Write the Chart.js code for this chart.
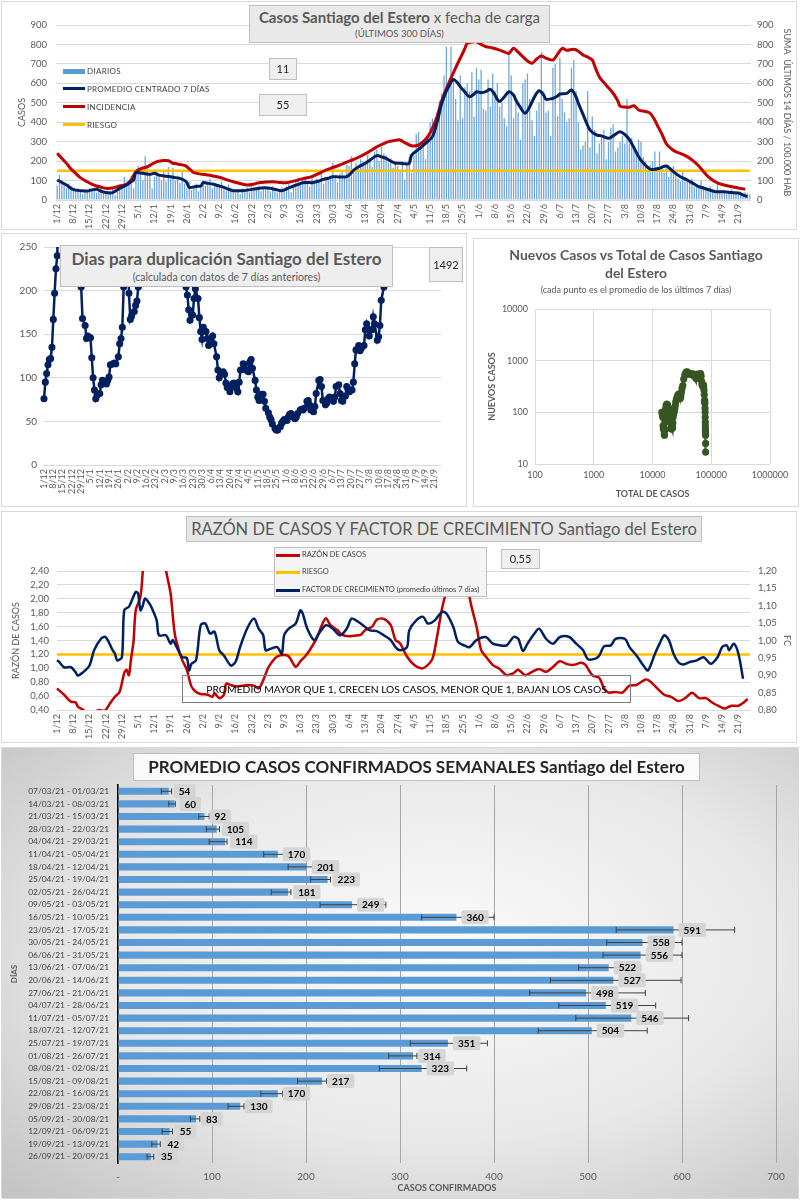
<!DOCTYPE html>
<html>
<head>
<meta charset="utf-8">
<script src="https://cdn.jsdelivr.net/npm/chart.js@4.4.1/dist/chart.umd.min.js"></script>
<style>
body{margin:0;width:803px;height:1200px;position:relative;background:#fff;font-family:Lato,'Open Sans',sans-serif;overflow:hidden}
.panel{position:absolute;box-sizing:border-box;border:1px solid #d9d9d9;background:#fff}
.lienzo{position:absolute}
.caja{position:absolute;box-sizing:border-box;border:1px solid #bfbfbf;background:#e9e9e9;color:#595959;text-align:center;white-space:nowrap}
.txt{position:absolute;white-space:nowrap;color:#404040}
.sw{position:absolute}
</style>
</head>
<body>

<div class="panel" style="left:1px;top:1px;width:796px;height:229px"></div>
<div class="panel" style="left:1px;top:233px;width:466px;height:274px"></div>
<div class="panel" style="left:473px;top:238px;width:326px;height:269px"></div>
<div class="panel" style="left:1px;top:511px;width:796px;height:232px"></div>
<div class="panel" style="left:1px;top:747px;width:798px;height:452px;background:radial-gradient(ellipse at 55% 45%, #fbfbfb 0%, #e8e8e8 55%, #c2c2c2 100%)"></div>

<div class="lienzo" style="left:0;top:0;width:800px;height:230px"><canvas id="c1"></canvas></div>
<div class="lienzo" style="left:2px;top:233px;width:465px;height:273px"><canvas id="c2"></canvas></div>
<div class="lienzo" style="left:474px;top:238px;width:325px;height:269px"><canvas id="c3"></canvas></div>
<div class="lienzo" style="left:0;top:512px;width:800px;height:231px"><canvas id="c4"></canvas></div>
<div class="lienzo" style="left:0;top:747px;width:800px;height:451px"><canvas id="c5"></canvas></div>

<!-- grafico 1 -->
<div class="caja" style="left:249px;top:5px;width:301px;height:38px">
  <div style="font-size:15px;line-height:18px;margin-top:2px"><b>Casos Santiago del Estero</b> x fecha de carga</div>
  <div style="font-size:9.5px;line-height:12px;margin-top:2px">(ÚLTIMOS 300 DÍAS)</div>
</div>
<div class="sw" style="left:63px;top:69px;width:22px;height:5px;background:#5b9bd5"></div>
<div class="txt" style="left:87px;top:65px;font-size:8px;line-height:12px;letter-spacing:0.3px">DIARIOS</div>
<div class="sw" style="left:63px;top:87px;width:22px;height:3px;background:#002060"></div>
<div class="txt" style="left:87px;top:83px;font-size:8px;line-height:12px;letter-spacing:0.3px">PROMEDIO CENTRADO 7 DÍAS</div>
<div class="sw" style="left:63px;top:105px;width:22px;height:3px;background:#c00000"></div>
<div class="txt" style="left:87px;top:101px;font-size:8px;line-height:12px;letter-spacing:0.3px">INCIDENCIA</div>
<div class="sw" style="left:63px;top:123px;width:22px;height:3px;background:#ffc000"></div>
<div class="txt" style="left:87px;top:119px;font-size:8px;line-height:12px;letter-spacing:0.3px">RIESGO</div>
<div class="caja" style="left:269px;top:58px;width:28px;height:22px;background:#efefef;color:#262626;font-size:11px;line-height:20px">11</div>
<div class="caja" style="left:259px;top:94px;width:48px;height:22px;background:#efefef;color:#262626;font-size:11px;line-height:20px">55</div>

<!-- grafico 2 -->
<div class="caja" style="left:60px;top:245px;width:333px;height:42px;background:#eeeeee">
  <div style="font-size:17px;line-height:20px;margin-top:3px;font-weight:bold">Dias para duplicación Santiago del Estero</div>
  <div style="font-size:10.5px;line-height:13px;margin-top:2px">(calculada con datos de 7 días anteriores)</div>
</div>
<div class="caja" style="left:429px;top:247px;width:34px;height:35px;background:#efefef;color:#262626;font-size:11px;line-height:33px">1492</div>

<!-- grafico 3 -->
<div class="txt" style="left:503px;top:246px;width:266px;text-align:center;white-space:normal;font-size:14px;line-height:18px;font-weight:bold;color:#595959">Nuevos Casos vs Total de Casos Santiago del Estero</div>
<div class="txt" style="left:480px;top:284px;width:312px;text-align:center;font-size:9px;line-height:12px;color:#595959">(cada punto es el promedio de los últimos 7 días)</div>

<!-- grafico 4 -->
<div class="caja" style="left:186px;top:516px;width:516px;height:26px;background:#e6e6e6;font-size:16.5px;line-height:24px">RAZÓN DE CASOS Y FACTOR DE CRECIMIENTO Santiago del Estero</div>
<div class="caja" style="left:274px;top:547px;width:213px;height:50px;background:#f4f4f4"></div>
<div class="sw" style="left:276px;top:554px;width:24px;height:2.5px;background:#c00000"></div>
<div class="txt" style="left:302px;top:550px;font-size:7.5px;line-height:10px">RAZÓN DE CASOS</div>
<div class="sw" style="left:276px;top:571px;width:24px;height:2.5px;background:#ffc000"></div>
<div class="txt" style="left:302px;top:567px;font-size:7.5px;line-height:10px">RIESGO</div>
<div class="sw" style="left:276px;top:589px;width:24px;height:2.5px;background:#002060"></div>
<div class="txt" style="left:302px;top:585px;font-size:7.5px;line-height:10px">FACTOR DE CRECIMIENTO (promedio últimos 7 días)</div>
<div class="caja" style="left:501px;top:549px;width:39px;height:20px;background:#efefef;color:#262626;font-size:11px;line-height:18px">0,55</div>
<div class="caja" style="left:182px;top:675px;width:449px;height:28px;background:transparent;border-color:#7f7f7f;color:#000;font-size:10.3px;line-height:26px">PROMEDIO MAYOR QUE 1, CRECEN LOS CASOS, MENOR QUE 1, BAJAN LOS CASOS</div>

<!-- grafico 5 -->
<div class="caja" style="left:133px;top:753px;width:567px;height:28px;background:rgba(255,255,255,0.85);color:#262626;font-size:17px;line-height:26px;font-weight:bold">PROMEDIO CASOS CONFIRMADOS SEMANALES Santiago del Estero</div>

<script>
// ---- datos ----
const N_DIAS = 300; // 1/12/2020 .. 26/9/2021
const etiquetasSemana = ['1/12','8/12','15/12','22/12','29/12','5/1','12/1','19/1','26/1','2/2','9/2','16/2','23/2','2/3','9/3','16/3','23/3','30/3','6/4','13/4','20/4','27/4','4/5','11/5','18/5','25/5','1/6','8/6','15/6','22/6','29/6','6/7','13/7','20/7','27/7','3/8','10/8','17/8','24/8','31/8','7/9','14/9','21/9'];

const casosDiarios = [
75,130,105,90,60,85,70,
55,48,62,40,30,52,45,
60,45,55,38,50,65,35,
40,30,48,55,25,45,60,
70,120,95,80,125,60,130,
175,150,100,225,160,130,60,
120,155,135,100,145,95,170,
110,165,100,125,90,150,85,
60,95,50,70,85,45,65,
100,75,90,110,60,85,80,
70,95,55,45,80,60,50,
40,55,30,60,45,65,40,
70,50,60,75,45,55,65,
60,45,70,50,40,55,65,
50,70,85,40,75,95,110,
80,100,120,85,70,130,95,
110,95,140,85,120,100,125,
190,110,90,135,150,120,180,
175,225,140,190,160,210,200,
185,230,215,170,250,260,200,
275,240,230,190,215,165,200,
175,150,200,105,180,220,140,
230,340,350,280,300,210,330,
400,420,380,450,510,550,640,
790,600,790,620,520,410,640,
420,580,600,560,660,430,680,
620,670,470,460,620,480,650,
560,600,480,500,420,380,770,
640,420,510,450,310,600,620,
650,520,410,330,460,500,760,
560,450,460,330,680,700,430,
730,520,450,400,420,680,720,
560,400,260,280,300,560,270,
430,360,240,290,330,360,210,
300,370,390,250,270,300,330,
290,520,290,320,260,250,310,
300,220,200,150,180,200,250,
150,250,180,140,170,120,150,
175,140,110,95,150,120,100,
90,110,70,80,65,100,70,
60,45,70,55,40,90,50,
35,50,30,45,55,40,35,
30,45,25,40,35,30];

// [dia, valor]
const promedio7 = [[0,103],[2,90],[4,77],[6,60],[8,51],[10,48],[13,46],[15,52],[17,55],[19,45],[21,38],[24,38],[27,60],[30,77],[32,95],[33,103],[34,140],[37,137],[40,132],[42,137],[44,128],[47,122],[49,120],[51,115],[53,111],[55,100],[56,89],[57,65],[60,70],[62,72],[63,89],[65,86],[67,82],[70,72],[72,65],[74,55],[76,48],[80,48],[83,52],[85,57],[88,62],[90,63],[92,60],[94,55],[97,48],[100,62],[102,72],[104,80],[106,89],[108,90],[110,89],[113,98],[115,106],[117,112],[119,120],[122,118],[125,120],[127,140],[128,154],[130,170],[133,189],[135,205],[138,228],[140,222],[142,214],[144,200],[146,189],[148,189],[150,186],[152,189],[153,231],[156,260],[159,291],[162,326],[164,400],[166,497],[168,560],[169,583],[171,620],[173,600],[174,583],[176,555],[178,531],[180,545],[181,557],[183,552],[185,557],[187,569],[189,540],[190,518],[191,506],[193,530],[195,557],[197,540],[198,514],[200,475],[202,446],[204,480],[206,530],[208,562],[210,540],[211,518],[213,520],[214,523],[216,535],[217,545],[220,548],[222,566],[224,530],[225,497],[227,440],[230,360],[233,334],[235,330],[238,317],[240,330],[243,351],[246,326],[248,291],[251,223],[253,190],[256,158],[258,158],[260,163],[263,175],[266,146],[269,120],[272,103],[275,82],[277,69],[280,58],[284,43],[288,42],[291,38],[294,36],[296,26],[298,17]];

const incidencia = [[0,240],[2,215],[4,189],[6,160],[8,137],[10,115],[13,94],[15,82],[17,72],[19,66],[21,60],[24,62],[26,69],[28,75],[30,81],[32,105],[34,146],[36,160],[39,171],[41,185],[43,197],[46,203],[48,202],[50,189],[52,185],[53,183],[55,178],[56,171],[58,150],[59,141],[62,133],[65,129],[68,122],[70,117],[73,105],[76,94],[79,85],[82,77],[85,82],[87,89],[90,92],[93,94],[96,90],[99,89],[102,97],[104,103],[107,112],[110,120],[113,137],[116,154],[119,167],[122,180],[125,195],[128,209],[131,225],[133,237],[136,258],[138,274],[141,290],[143,300],[145,305],[148,309],[150,295],[153,279],[156,283],[158,300],[160,326],[162,370],[164,429],[166,510],[169,600],[172,680],[174,729],[176,780],[177,806],[179,812],[181,814],[183,800],[185,789],[188,782],[191,771],[193,762],[195,754],[197,780],[199,760],[201,737],[203,715],[205,703],[207,725],[209,740],[211,730],[214,720],[216,750],[218,780],[220,770],[223,775],[225,765],[227,746],[229,735],[231,720],[232,690],[234,634],[237,590],[240,549],[242,510],[243,483],[245,478],[247,477],[249,485],[251,463],[254,455],[256,446],[258,410],[259,386],[261,340],[263,288],[265,265],[267,249],[270,235],[272,223],[274,206],[277,175],[279,146],[281,120],[284,94],[287,80],[291,69],[294,62],[297,55]];

const riesgoCasos = [[0,150],[299,150]];

const diasDuplicacion = [[0,76],[1,95],[2,105],[3,115],[4,121],[5,122],[6,135],[7,167],[8,197],[9,225],[10,240],[11,320],[18,700],[27,320],[28,204],[29,168],[31,160],[32,145],[33,148],[35,146],[36,123],[37,100],[38,86],[39,76],[40,80],[42,82],[43,92],[44,97],[45,95],[47,93],[48,97],[49,101],[50,115],[52,116],[53,117],[54,116],[56,124],[57,139],[58,145],[59,158],[60,204],[61,330],[62,500],[63,330],[64,197],[65,167],[66,171],[68,176],[69,183],[70,188],[71,204],[72,320],[90,900],[106,320],[107,204],[108,195],[109,178],[110,166],[112,172],[113,191],[114,202],[116,191],[117,169],[118,153],[119,144],[120,158],[122,153],[123,145],[124,137],[125,139],[127,148],[128,139],[130,124],[131,109],[132,100],[133,105],[135,107],[136,104],[137,94],[138,89],[140,84],[141,90],[142,93],[143,94],[145,88],[146,84],[147,95],[148,109],[150,116],[151,115],[152,109],[154,107],[155,118],[156,121],[157,111],[159,97],[160,86],[161,78],[162,74],[164,81],[165,81],[166,73],[167,65],[169,60],[170,55],[171,52],[172,47],[174,42],[175,40],[176,40],[178,44],[179,48],[180,50],[181,52],[183,51],[184,55],[185,58],[186,59],[188,55],[189,53],[190,55],[191,59],[193,63],[194,64],[195,63],[196,65],[198,73],[199,74],[200,69],[201,63],[203,61],[204,67],[205,82],[207,97],[208,98],[209,90],[210,74],[212,69],[213,71],[214,76],[215,78],[217,76],[218,73],[219,78],[220,90],[222,92],[223,82],[224,74],[225,73],[227,79],[228,90],[229,87],[230,84],[232,86],[233,95],[234,116],[235,132],[237,137],[238,131],[239,134],[241,137],[242,155],[243,162],[244,156],[245,148],[247,155],[248,170],[249,162],[251,143],[252,147],[253,160],[254,189],[256,204],[257,320],[270,900],[299,1492]];

const totalCasos = [14400,14700,14950,15150,15300,15450,15600,15750,15880,16000,16100,16250,16450,16700,17000,17300,17600,17900,18150,18400,18650,18900,19150,19350,19500,19650,19800,19950,20150,20300,20450,20600,20700,20800,20900,21000,21100,21200,21350,21450,21550,21700,21850,22000,22200,22400,22700,23000,23350,23650,24000,24400,24900,25500,26000,26600,27200,27900,28600,29200,29750,30300,31000,31800,32800,34000,35500,37300,39100,40800,42500,44100,45800,47400,49000,50500,52000,53600,55000,56400,57900,59500,61000,62600,64200,65800,67300,68500,69600,70600,71500,72500,73500,74400,75300,76000,76500,77000,77500,78000,78400,78700,79000,79200,79400,79550,79700,79850,80000,80100,80150,80200];
const nuevosCasos = [100,90,80,55,48,50,52,45,38,36,45,65,90,115,135,140,145,140,132,125,120,118,110,95,72,66,75,85,88,82,72,62,52,48,48,50,55,60,62,58,55,52,52,50,62,80,92,95,105,108,118,135,160,175,190,205,215,225,215,195,185,200,240,290,330,440,530,600,610,570,540,555,560,555,520,515,545,510,450,490,550,520,525,545,550,560,500,400,345,335,318,335,340,320,270,220,162,165,170,150,120,100,80,65,55,48,43,40,38,36,25,17];

const razonCasos = [[0,0.71],[3,0.62],[6,0.52],[8,0.51],[9,0.45],[11,0.41],[13,0.36],[16,0.37],[18,0.40],[20,0.39],[21,0.40],[23,0.50],[25,0.59],[27,0.66],[29,0.93],[30,0.98],[31,0.90],[32,1.15],[33,1.38],[34,1.84],[36,2.03],[37,2.39],[38,2.8],[42,4],[46,2.8],[47,2.42],[49,2.08],[50,1.74],[51,1.46],[53,1.22],[54,1.12],[56,0.98],[58,0.74],[60,0.66],[62,0.63],[65,0.62],[67,0.59],[68,0.64],[70,0.57],[72,0.62],[73,0.78],[75,0.76],[77,0.74],[80,0.75],[82,0.76],[85,0.75],[87,0.71],[89,0.83],[91,1.0],[93,1.10],[95,1.17],[98,1.19],[100,1.17],[103,1.02],[105,1.10],[107,1.17],[109,1.26],[112,1.43],[114,1.60],[116,1.72],[118,1.62],[121,1.55],[123,1.48],[126,1.46],[128,1.47],[131,1.48],[133,1.55],[136,1.60],[138,1.70],[141,1.71],[144,1.62],[146,1.41],[148,1.36],[151,1.17],[154,1.05],[157,1.0],[159,1.02],[162,1.14],[164,1.46],[166,1.84],[168,2.13],[169,2.40],[171,2.9],[174,3.2],[177,2.6],[178,2.03],[181,1.60],[183,1.26],[185,1.17],[188,1.05],[191,0.99],[194,0.90],[197,0.93],[199,0.98],[202,0.90],[205,0.95],[208,0.99],[211,0.95],[214,1.02],[217,1.10],[220,1.06],[223,1.05],[226,1.08],[228,1.05],[231,0.90],[234,0.86],[236,0.71],[238,0.65],[241,0.66],[244,0.65],[247,0.75],[250,0.76],[254,0.84],[256,0.81],[259,0.71],[262,0.62],[265,0.59],[268,0.53],[271,0.57],[274,0.65],[277,0.57],[280,0.57],[283,0.50],[286,0.45],[288,0.42],[291,0.46],[294,0.46],[296,0.50],[298,0.56]];

const factorCrecimiento = [[0,0.943],[1,0.938],[3,0.923],[6,0.923],[8,0.909],[9,0.899],[11,0.907],[14,0.928],[16,0.972],[19,1.005],[21,1.010],[24,0.972],[25,0.962],[26,0.943],[28,0.952],[29,1.087],[31,1.097],[32,1.111],[34,1.140],[35,1.135],[36,1.087],[37,1.10],[38,1.121],[40,1.105],[41,1.092],[43,1.058],[44,1.015],[47,1.015],[49,0.991],[50,1.001],[52,0.976],[54,0.952],[56,0.950],[57,0.914],[58,0.933],[60,0.943],[62,1.044],[64,1.049],[66,1.020],[68,1.025],[70,0.972],[72,0.957],[75,0.928],[77,0.938],[79,0.981],[82,1.034],[85,1.063],[87,1.034],[89,1.015],[90,0.972],[92,0.976],[95,0.981],[97,0.962],[98,1.015],[100,1.034],[103,1.049],[105,1.087],[106,1.078],[108,1.034],[111,1.001],[113,1.020],[116,1.044],[119,1.034],[122,1.015],[125,1.034],[127,1.063],[129,1.058],[132,1.044],[135,1.029],[138,1.027],[141,1.015],[144,1.001],[146,0.981],[148,0.972],[151,0.981],[152,1.029],[155,1.058],[158,1.068],[160,1.049],[163,1.058],[166,1.082],[168,1.078],[171,1.039],[173,0.996],[176,0.985],[178,0.981],[181,1.001],[185,1.010],[188,0.991],[191,0.986],[194,0.986],[197,1.010],[199,1.005],[201,0.970],[203,0.991],[206,1.02],[208,1.034],[211,1.005],[214,0.991],[217,1.010],[221,1.010],[224,0.991],[227,0.972],[229,0.947],[232,0.947],[234,0.957],[236,0.983],[239,0.986],[241,1.005],[245,1.005],[247,0.981],[250,0.957],[253,0.928],[255,0.914],[258,0.962],[260,0.991],[262,1.015],[264,1.001],[266,0.962],[268,0.938],[270,0.931],[273,0.938],[276,0.943],[279,0.952],[282,0.933],[285,0.952],[287,0.981],[289,0.986],[290,0.972],[292,0.991],[294,0.962],[296,0.890]];

const riesgoRazon = [[0,1.2],[299,1.2]];

const semanas = ['07/03/21 - 01/03/21','14/03/21 - 08/03/21','21/03/21 - 15/03/21','28/03/21 - 22/03/21','04/04/21 - 29/03/21','11/04/21 - 05/04/21','18/04/21 - 12/04/21','25/04/21 - 19/04/21','02/05/21 - 26/04/21','09/05/21 - 03/05/21','16/05/21 - 10/05/21','23/05/21 - 17/05/21','30/05/21 - 24/05/21','06/06/21 - 31/05/21','13/06/21 - 07/06/21','20/06/21 - 14/06/21','27/06/21 - 21/06/21','04/07/21 - 28/06/21','11/07/21 - 05/07/21','18/07/21 - 12/07/21','25/07/21 - 19/07/21','01/08/21 - 26/07/21','08/08/21 - 02/08/21','15/08/21 - 09/08/21','22/08/21 - 16/08/21','29/08/21 - 23/08/21','05/09/21 - 30/08/21','12/09/21 - 06/09/21','19/09/21 - 13/09/21','26/09/21 - 20/09/21'];
const promedioSemanal = [54,60,92,105,114,170,201,223,181,249,360,591,558,556,522,527,498,519,546,504,351,314,323,217,170,130,83,55,42,35];
const errorBajo = [46,54,86,94,97,155,181,205,163,215,323,530,520,516,490,460,438,469,487,447,311,288,278,191,152,117,77,47,36,31];
const errorAlto = [57,61,97,108,116,180,207,226,184,285,400,656,600,600,556,599,561,572,607,563,393,318,371,222,175,134,87,58,45,38];

// ---- utilidades ----
const dias = Array.from({length: N_DIAS}, (_, i) => i);
function serie(pares) {
  const a = new Array(N_DIAS).fill(null);
  pares.forEach(([d, v]) => { a[d] = v; });
  return a;
}
function etiquetaDia(v, i) { return i % 7 === 0 ? etiquetasSemana[i / 7] : ''; }
function coma(dec) { return v => Number(v).toFixed(dec).replace('.', ','); }
function soloPotencias(scale) {
  scale.ticks = scale.ticks.filter(t => Math.abs(Math.log10(t.value) - Math.round(Math.log10(t.value))) < 1e-6);
}
const GRIS = '#595959';
Chart.defaults.font.family = "Lato, 'Open Sans', sans-serif";
Chart.defaults.color = GRIS;
Chart.defaults.animation = false;
Chart.defaults.responsive = true;
Chart.defaults.maintainAspectRatio = false;
Chart.defaults.plugins.legend.display = false;
Chart.defaults.plugins.tooltip.enabled = false;

const ejeFechas = (alto) => ({
  grid: {display: false, drawTicks: false},
  border: {display: false},
  ticks: {autoSkip: false, maxRotation: 90, minRotation: 90, padding: 4, font: {size: 9}, callback: etiquetaDia},
  afterFit: s => { s.height = alto; }
});

// ---- 1: casos diarios ----
new Chart(document.getElementById('c1'), {
  data: {
    labels: dias,
    datasets: [
      {type: 'bar', data: casosDiarios, backgroundColor: '#6ea6dc', barPercentage: 0.55, categoryPercentage: 1, yAxisID: 'y', order: 4},
      {type: 'line', data: serie(riesgoCasos), borderColor: '#ffc000', borderWidth: 2.5, pointRadius: 0, spanGaps: true, yAxisID: 'y', order: 3},
      {type: 'line', data: serie(incidencia), borderColor: '#c00000', borderWidth: 3, pointRadius: 0, spanGaps: true, tension: 0.3, yAxisID: 'y1', order: 2},
      {type: 'line', data: serie(promedio7), borderColor: '#002060', borderWidth: 3, pointRadius: 0, spanGaps: true, tension: 0.3, yAxisID: 'y', order: 1}
    ]
  },
  options: {
    layout: {padding: {top: 25}},
    scales: {
      x: ejeFechas(30),
      y: {
        position: 'left', min: 0, max: 900,
        ticks: {stepSize: 100, autoSkip: false, padding: 9, font: {size: 9.5}},
        grid: {color: '#d9d9d9', drawTicks: false}, border: {display: false},
        title: {display: true, text: 'CASOS', font: {size: 9}, padding: {top: 17, bottom: 0}},
        afterFit: s => { s.width = 56; }
      },
      y1: {
        position: 'right', min: 0, max: 900,
        ticks: {stepSize: 100, autoSkip: false, padding: 6, font: {size: 9.5}},
        grid: {display: false, drawTicks: false}, border: {display: false},
        title: {display: true, text: 'SUMA  ÚLTIMOS 14 DÍAS / 100.000 HAB', font: {size: 9}, padding: {top: 8, bottom: 0}},
        afterFit: s => { s.width = 49; }
      }
    }
  }
});

// ---- 2: dias para duplicacion ----
new Chart(document.getElementById('c2'), {
  type: 'line',
  data: {
    labels: dias,
    datasets: [{data: serie(diasDuplicacion), borderColor: '#002060', borderWidth: 2.5, pointRadius: 2.3, pointBackgroundColor: '#002060', pointBorderColor: '#002060', spanGaps: true}]
  },
  options: {
    layout: {padding: {top: 14, right: 26}},
    scales: {
      x: ejeFechas(41),
      y: {
        min: 0, max: 250,
        ticks: {stepSize: 50, autoSkip: false, padding: 7, font: {size: 10}},
        grid: {color: '#d9d9d9', drawTicks: false}, border: {display: false},
        afterFit: s => { s.width = 42; }
      }
    }
  }
});

// ---- 3: nuevos vs total ----
new Chart(document.getElementById('c3'), {
  type: 'scatter',
  data: {
    datasets: [{
      data: totalCasos.map((t, i) => ({x: t, y: nuevosCasos[i]})),
      showLine: true, borderColor: '#375623', borderWidth: 2, pointRadius: 2.6,
      pointBackgroundColor: '#375623', pointBorderColor: '#375623'
    }]
  },
  options: {
    layout: {padding: {top: 71, right: 29}},
    scales: {
      x: {
        type: 'logarithmic', min: 100, max: 1000000,
        afterBuildTicks: soloPotencias,
        ticks: {font: {size: 9}, padding: 6, callback: v => String(v)},
        grid: {color: '#d9d9d9', drawTicks: false}, border: {display: false},
        title: {display: true, text: 'TOTAL DE CASOS', font: {size: 9, weight: 'bold'}, padding: {top: 0, bottom: 8}},
        afterFit: s => { s.height = 43; }
      },
      y: {
        type: 'logarithmic', min: 10, max: 10000,
        afterBuildTicks: soloPotencias,
        ticks: {font: {size: 9}, padding: 7, callback: v => String(v)},
        grid: {color: '#d9d9d9', drawTicks: false}, border: {display: false},
        title: {display: true, text: 'NUEVOS CASOS', font: {size: 9, weight: 'bold'}, padding: {top: 13, bottom: 0}},
        afterFit: s => { s.width = 61; }
      }
    }
  }
});

// ---- 4: razon de casos y factor de crecimiento ----
new Chart(document.getElementById('c4'), {
  type: 'line',
  data: {
    labels: dias,
    datasets: [
      {data: serie(riesgoRazon), borderColor: '#ffc000', borderWidth: 2.5, pointRadius: 0, spanGaps: true, yAxisID: 'y', order: 3},
      {data: serie(razonCasos), borderColor: '#c00000', borderWidth: 2.5, pointRadius: 0, spanGaps: true, tension: 0.3, yAxisID: 'y', order: 2},
      {data: serie(factorCrecimiento), borderColor: '#002060', borderWidth: 2.5, pointRadius: 0, spanGaps: true, tension: 0.3, yAxisID: 'y1', order: 1}
    ]
  },
  options: {
    layout: {padding: {top: 59}},
    scales: {
      x: ejeFechas(33),
      y: {
        position: 'left', min: 0.4, max: 2.4,
        ticks: {stepSize: 0.2, autoSkip: false, padding: 8, font: {size: 9.5}, callback: coma(2)},
        grid: {color: '#d9d9d9', drawTicks: false}, border: {display: false},
        title: {display: true, text: 'RAZÓN DE CASOS', font: {size: 9}, padding: {top: 11, bottom: 0}},
        afterFit: s => { s.width = 57; }
      },
      y1: {
        position: 'right', min: 0.8, max: 1.2,
        ticks: {stepSize: 0.05, autoSkip: false, padding: 8, font: {size: 9.5}, callback: coma(2)},
        grid: {display: false, drawTicks: false}, border: {display: false},
        title: {display: true, text: 'FC', font: {size: 9}, padding: {top: 8, bottom: 0}},
        afterFit: s => { s.width = 50; }
      }
    }
  }
});

// ---- 5: promedio semanal ----
const barrasError = {
  id: 'barrasError',
  afterDatasetsDraw(chart) {
    const {ctx} = chart;
    const x = chart.scales.x;
    const meta = chart.getDatasetMeta(0);
    ctx.save();
    meta.data.forEach((barra, i) => {
      const y = barra.y;
      const x1 = x.getPixelForValue(errorBajo[i]);
      const x2 = x.getPixelForValue(errorAlto[i]);
      ctx.strokeStyle = '#404040';
      ctx.lineWidth = 1;
      ctx.beginPath();
      ctx.moveTo(x1, y); ctx.lineTo(x2, y);
      ctx.moveTo(x1, y - 3); ctx.lineTo(x1, y + 3);
      ctx.moveTo(x2, y - 3); ctx.lineTo(x2, y + 3);
      ctx.stroke();
      const txt = String(promedioSemanal[i]);
      ctx.font = "bold 10px Lato, 'Open Sans', sans-serif";
      const w = ctx.measureText(txt).width + 10;
      const bx = barra.x + 5;
      ctx.fillStyle = 'rgba(212,212,212,0.95)';
      ctx.beginPath();
      if (ctx.roundRect) ctx.roundRect(bx, y - 7, w, 14, 2); else ctx.rect(bx, y - 7, w, 14);
      ctx.fill();
      ctx.fillStyle = '#000';
      ctx.textAlign = 'center';
      ctx.textBaseline = 'middle';
      ctx.fillText(txt, bx + w / 2, y + 0.5);
    });
    ctx.restore();
  }
};

new Chart(document.getElementById('c5'), {
  type: 'bar',
  data: {
    labels: semanas,
    datasets: [{data: promedioSemanal, backgroundColor: '#5b9bd5', barPercentage: 0.56, categoryPercentage: 1}]
  },
  options: {
    indexAxis: 'y',
    layout: {padding: {top: 38, right: 24}},
    scales: {
      x: {
        min: 0, max: 700,
        ticks: {stepSize: 100, padding: 8, font: {size: 10}, callback: v => v === 0 ? '-' : v},
        grid: {color: '#a6a6a6', drawTicks: false}, border: {display: false},
        title: {display: true, text: 'CASOS CONFIRMADOS', font: {size: 9, weight: 'bold'}, padding: {top: 0, bottom: 5}},
        afterFit: s => { s.height = 35; }
      },
      y: {
        ticks: {autoSkip: false, padding: 9, font: {size: 8.4}, color: '#404040'},
        grid: {display: false, drawTicks: false},
        border: {display: true, color: '#000', width: 1.5},
        title: {display: true, text: 'DÍAS', font: {size: 8, weight: 'bold'}, padding: {top: 10, bottom: 0}},
        afterFit: s => { s.width = 118; }
      }
    }
  },
  plugins: [barrasError]
});
</script>
</body>
</html>
